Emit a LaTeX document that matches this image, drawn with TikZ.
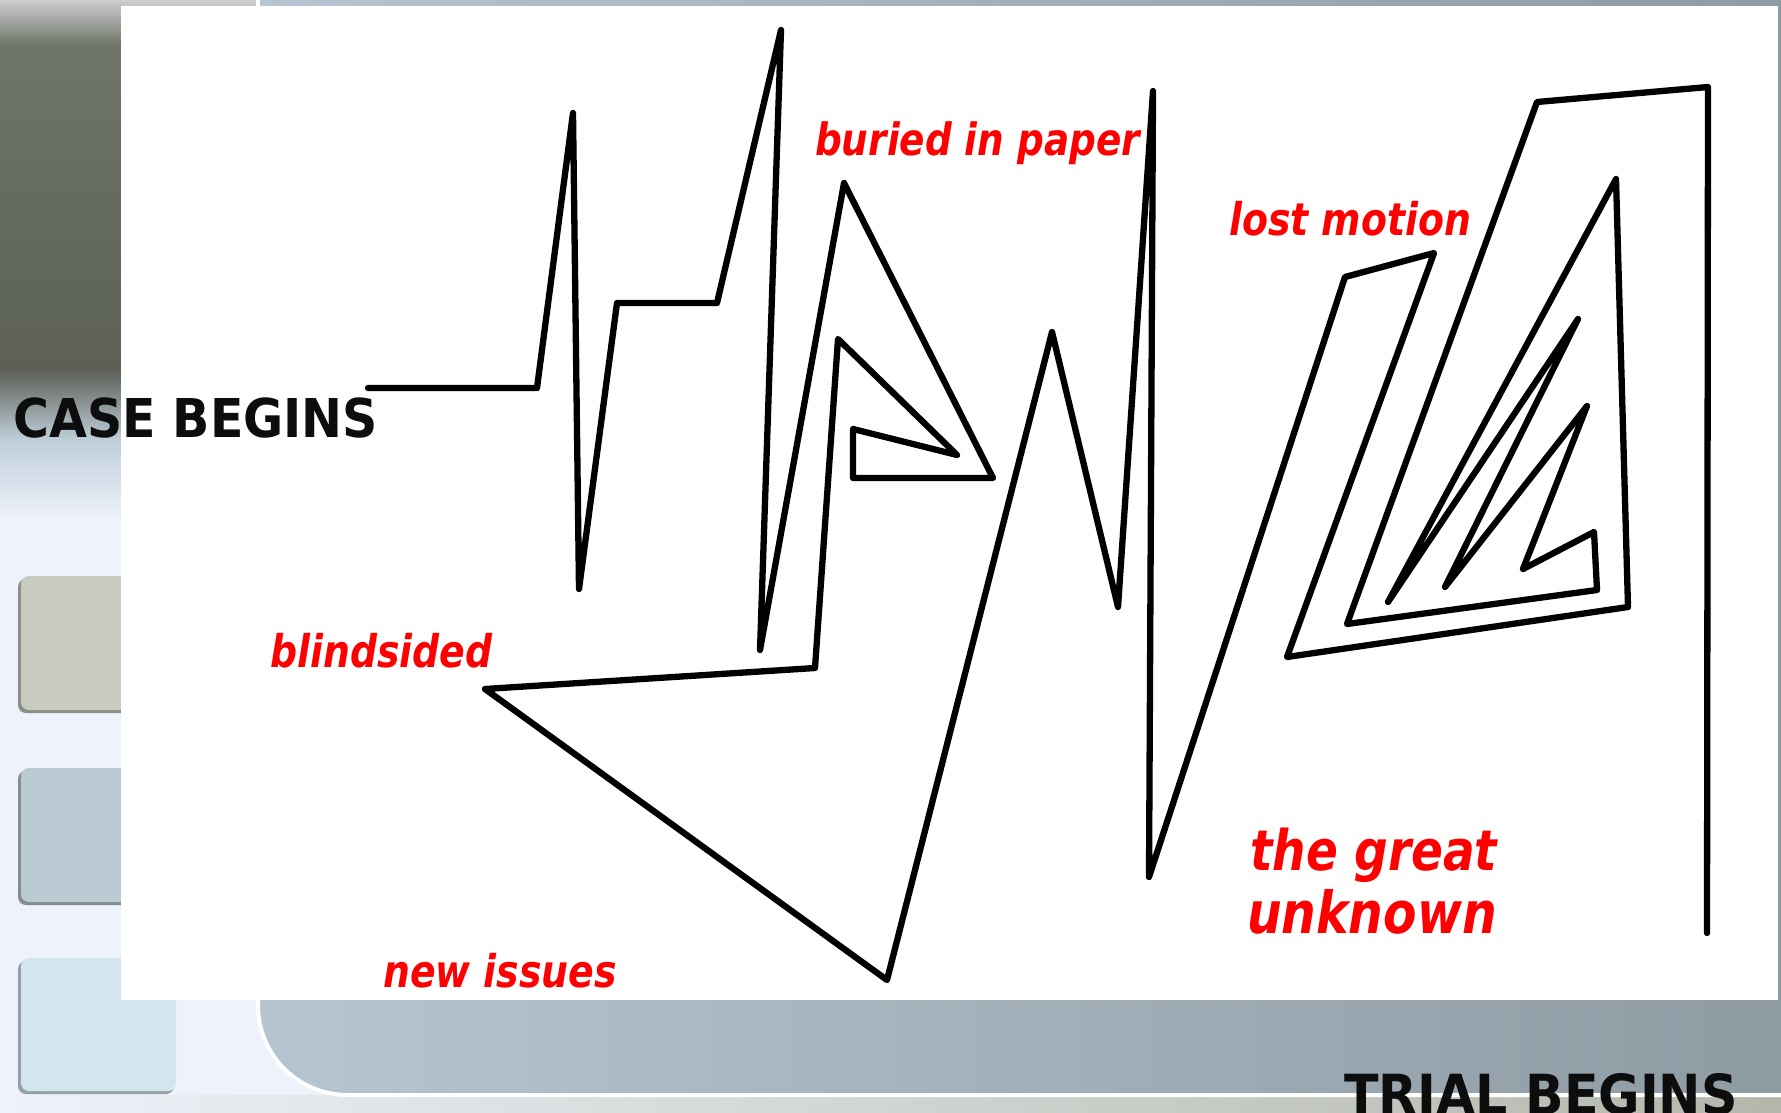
\documentclass[tikz,border=0pt]{standalone}
\usepackage{fontspec}
\newfontfamily\capsfont[FakeStretch=0.915]{DejaVu Sans}
\newfontfamily\lblfont[FakeStretch=0.84]{DejaVu Sans}
\definecolor{bgbase}{HTML}{EEF2FA}
\definecolor{oliveA}{HTML}{6F7569}
\definecolor{oliveB}{HTML}{5C6057}
\definecolor{paleblue}{HTML}{C0CFDA}
\definecolor{bandL}{HTML}{B6C5D1}
\definecolor{bandR}{HTML}{8F9BA3}
\definecolor{sqA}{HTML}{C7CCBE}
\definecolor{sqB}{HTML}{B9CAD3}
\definecolor{sqC}{HTML}{D3E6EF}
\definecolor{labelred}{HTML}{FF0000}
\tikzset{
  scribble/.style={line width=6.3pt, line join=round, line cap=round, black},
  bigcaps/.style={inner sep=0pt, anchor=base west, text=black!95,
    font=\capsfont\bfseries\fontsize{53.5}{60}\selectfont},
  redlabel/.style={inner sep=0pt, anchor=base west, text=labelred,
    font=\lblfont\bfseries\itshape\fontsize{45}{54}\selectfont},
  biglabel/.style={redlabel, font=\lblfont\bfseries\itshape\fontsize{56}{63}\selectfont},
  tile/.style={rounded corners=8pt}
}
\begin{document}
\begin{tikzpicture}[x=1pt,y=-1pt]
\useasboundingbox (0,0) rectangle (1781,1113);
% base background
\fill[bgbase] (0,0) rectangle (1781,1113);
% left column shading
\shade[top color=bgbase!40!gray!60, bottom color=oliveA] (0,0) rectangle (258,45);
\shade[top color=oliveA, bottom color=oliveB] (0,45) rectangle (258,370);
\shade[top color=oliveB, bottom color=paleblue] (0,370) rectangle (258,440);
\shade[top color=paleblue, bottom color=bgbase] (0,440) rectangle (258,520);
% bottom strip
\shade[left color=bgbase, right color=sqA!90!black] (0,1095) rectangle (1781,1113);
% big gray-blue band with rounded lower-left corner
\shade[left color=bandL, right color=bandR, draw=white, line width=4pt]
  (1790,-10) -- (258,-10) -- (258,1005)
  .. controls (258,1055) and (298,1095) .. (348,1095) -- (1790,1095) -- cycle;
% left tiles with shadow
\fill[sqA!70!black, tile] (18,579) rectangle (174,713);
\fill[sqA, tile] (21,576) rectangle (176,710);
\fill[sqB!70!black, tile] (18,771) rectangle (174,905);
\fill[sqB, tile] (21,768) rectangle (176,902);
\fill[sqC!70!black, tile] (18,961) rectangle (174,1094);
\fill[sqC, tile] (21,958) rectangle (176,1091);
% white panel
\fill[white] (121,6) rectangle (1778,1000);
% the scribble
\draw[scribble] (368,388) -- (537,388) -- (573,113) -- (579,589) -- (617,303)
  -- (717,303) -- (781,30) -- (760,650) -- (844,183) -- (993,478) -- (853,478)
  -- (853,429) -- (957,455) -- (838,339) -- (815,668) -- (485,689) -- (887,980)
  -- (1052,332) -- (1118,607) -- (1153,91) -- (1149,877) -- (1345,277)
  -- (1434,253) -- (1287,657) -- (1628,607) -- (1616,179) -- (1388,602)
  -- (1578,319) -- (1445,587) -- (1587,406) -- (1523,569) -- (1594,532)
  -- (1597,590) -- (1347,624) -- (1537,102) -- (1708,87) -- (1707,933);
% texts
\node[bigcaps] (case) at (13,437) {CASE BEGINS};
\node[bigcaps, font=\capsfont\bfseries\fontsize{55.3}{60}\selectfont] (trial) at (1344,1114) {TRIAL BEGINS};
\node[redlabel, font=\lblfont\bfseries\itshape\fontsize{44.5}{54}\selectfont] (buried) at (815,156) {buried in paper};
\node[redlabel] (lost) at (1229,235) {lost motion};
\node[redlabel] (blind) at (270,667) {blindsided};
\node[redlabel] (newiss) at (383,987) {new issues};
\node[biglabel] (great) at (1250,870) {the great};
\node[biglabel, font=\lblfont\bfseries\itshape\fontsize{58}{63}\selectfont] (unknown) at (1247,933) {unknown};
\end{tikzpicture}
\end{document}
